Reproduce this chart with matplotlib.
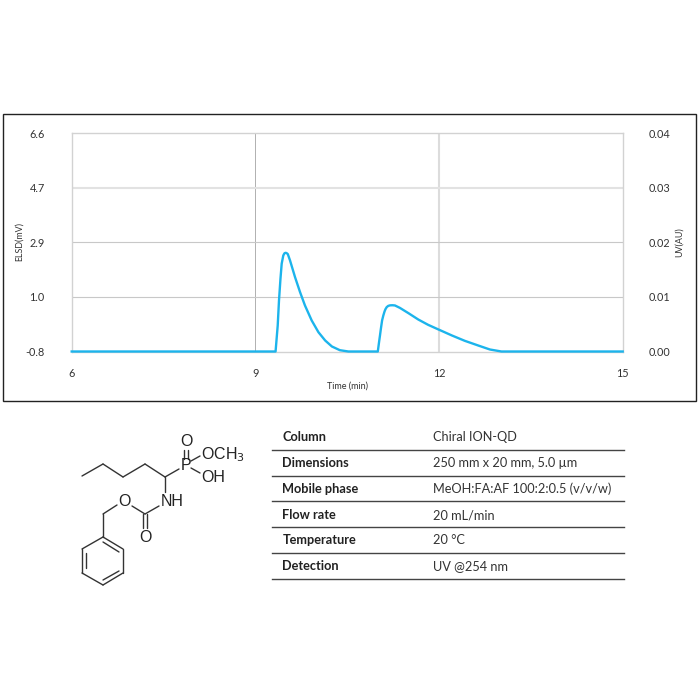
import matplotlib
matplotlib.use("Agg")
import matplotlib.pyplot as plt

# chromatogram trace
time_min = [6.0, 9.33, 9.365, 9.386, 9.41, 9.43, 9.456, 9.475, 9.495, 9.515, 9.53, 9.566, 9.648, 9.73,
            9.81, 9.92, 10.03, 10.14, 10.25, 10.38, 10.52, 11.0, 11.02, 11.035, 11.05, 11.07, 11.09,
            11.11, 11.125, 11.145, 11.17, 11.2, 11.24, 11.28, 11.36, 11.5, 11.66, 11.82, 11.99, 12.21,
            12.42, 12.64, 12.83, 13.02, 15.0]
uv_au = [0.0, 0.0, 0.00477, 0.00936, 0.01334, 0.0161, 0.0176, 0.018, 0.0181, 0.018, 0.01785, 0.0167,
         0.01363, 0.01088, 0.00844, 0.00569, 0.00354, 0.00202, 0.00092, 0.00024, 0.0,
         0.0, 0.0017, 0.0029, 0.00416, 0.0057, 0.0066, 0.00734, 0.00776, 0.00813, 0.00836, 0.00846,
         0.00848, 0.00844, 0.008, 0.00703, 0.00587, 0.0049, 0.00404, 0.00294,
         0.00196, 0.0011, 0.00037, 0.0, 0.0]

x_ticks = [6, 9, 12, 15]
uv_ticks = [0.0, 0.01, 0.02, 0.03, 0.04]
uv_labels = ["0.00", "0.01", "0.02", "0.03", "0.04"]
elsd_ticks = [-0.8, 1.05, 2.9, 4.75, 6.6]
elsd_labels = ["-0.8", "1.0", "2.9", "4.7", "6.6"]

table_names = ["Column", "Dimensions", "Mobile phase", "Flow rate", "Temperature", "Detection"]
table_values = ["Chiral ION-QD", "250 mm x 20 mm, 5.0 µm", "MeOH:FA:AF 100:2:0.5 (v/v/w)",
                "20 mL/min", "20 °C", "UV @254 nm"]

# molecule bonds and labels, in pixels of the figure
bonds = [
    ((82, 476), (103, 464)), ((103, 464), (123, 477)), ((123, 477), (145, 464)),
    ((145, 464), (165, 477)), ((165, 477), (179, 469)),
    ((184, 459), (184, 450)), ((188, 459), (188, 450)),
    ((191, 461), (200, 456)), ((191, 468), (200, 473)),
    ((165, 477), (165, 492)), ((159, 506), (145, 514)),
    ((143, 514), (143, 528)), ((147, 514), (147, 528)),
    ((145, 514), (132, 506)), ((117, 505), (103, 514)), ((103, 514), (103, 537)),
    ((103, 537), (123, 549)), ((123, 549), (123, 573)), ((123, 573), (103, 585)),
    ((103, 585), (82, 573)), ((82, 573), (82, 549)), ((82, 549), (103, 537)),
    ((103, 542), (119, 552)), ((119, 571), (103, 580)), ((86, 568), (86, 553)),
]
atoms = [("P", 186, 465), ("O", 186, 441), ("O", 145, 537), ("O", 124, 501),
         ("NH", 172, 501), ("OH", 213, 477), ("OCH$_3$", 222.5, 455)]

fig = plt.figure(figsize=(7, 7), dpi=100)

# overlay in pixels for the frame, table and molecule
page = fig.add_axes([0, 0, 1, 1])
page.set_xlim(0, 700)
page.set_ylim(700, 0)
page.axis("off")
page.add_patch(plt.Rectangle((3.3, 113.7), 692.4, 287.6, fill=False, ec="#222222", lw=1.0))

for a, b in bonds:
    page.plot([a[0], b[0]], [a[1], b[1]], color="#333333", lw=1.0, solid_capstyle="round")
for label, x, y in atoms:
    page.text(x, y, label, family="Liberation Sans", fontsize=11.5, color="#222222",
              ha="center", va="center")

row_y = [437.3, 463, 489, 515, 540.5, 566]
line_y = [450, 475.7, 501.3, 527.3, 553, 579]
for name, value, y, ly in zip(table_names, table_values, row_y, line_y):
    page.text(282.3, y, name, family="Lato", fontweight="bold", fontsize=9.2, color="#222222",
              ha="left", va="center")
    page.text(433.3, y, value, family="Lato", fontsize=9.2, color="#333333",
              ha="left", va="center")
    page.plot([272, 624], [ly, ly], color="#444444", lw=1.0)

# chart axes, UV on the right, ELSD labels on the left
ax = fig.add_axes([71.7 / 700, (700 - 351.5) / 700, 551 / 700, 218.2 / 700])
ax.patch.set_alpha(0)
ax2 = ax.twinx()

ax.set_xlim(6, 15)
ax.set_ylim(0, 0.04)
ax.yaxis.tick_right()
ax.set_yticks(uv_ticks, uv_labels)
ax.set_xticks(x_ticks)
ax.tick_params(axis="both", length=0, labelsize=7.8, labelcolor="#333333")
ax.tick_params(axis="y", pad=19)
ax.tick_params(axis="x", pad=12)
for label in ax.get_xticklabels() + ax.get_yticklabels():
    label.set_family("Lato")
for s in ax.spines.values():
    s.set_color("#d2d2d2")
    s.set_linewidth(1.0)

ax.axvline(9, color="#b0b0b0", lw=0.7, zorder=1)
ax.axvline(12, color="#dcdcdc", lw=1.5, zorder=1)
ax.axhline(0.01, color="#c8c8c8", lw=0.8, zorder=1)
ax.axhline(0.02, color="#c8c8c8", lw=0.8, zorder=1)
ax.axhline(0.03, color="#e2e2e2", lw=1.5, zorder=1)

ax2.set_ylim(-0.8, 6.6)
ax2.yaxis.tick_left()
ax2.set_yticks(elsd_ticks, elsd_labels)
ax2.tick_params(axis="y", length=0, labelsize=7.8, labelcolor="#333333", pad=19.5)
for label in ax2.get_yticklabels():
    label.set_family("Lato")
for s in ax2.spines.values():
    s.set_visible(False)

ax2.set_zorder(ax.get_zorder() - 1)
ax.plot(time_min, uv_au, color="#1cb4ec", lw=1.7, zorder=3, clip_on=False,
        solid_joinstyle="round")

page.text(19.5, 241.7, "ELSD(mV)", family="Lato", fontsize=6.4, color="#333333", rotation=90,
          ha="center", va="center")
page.text(679, 242, "UV(AU)", family="Lato", fontsize=6.4, color="#333333", rotation=90,
          ha="center", va="center")
page.text(347.5, 386, "Time (min)", family="Lato", fontsize=6.5, color="#333333",
          ha="center", va="center")

fig.savefig("out.png", dpi=100)
plt.close(fig)
